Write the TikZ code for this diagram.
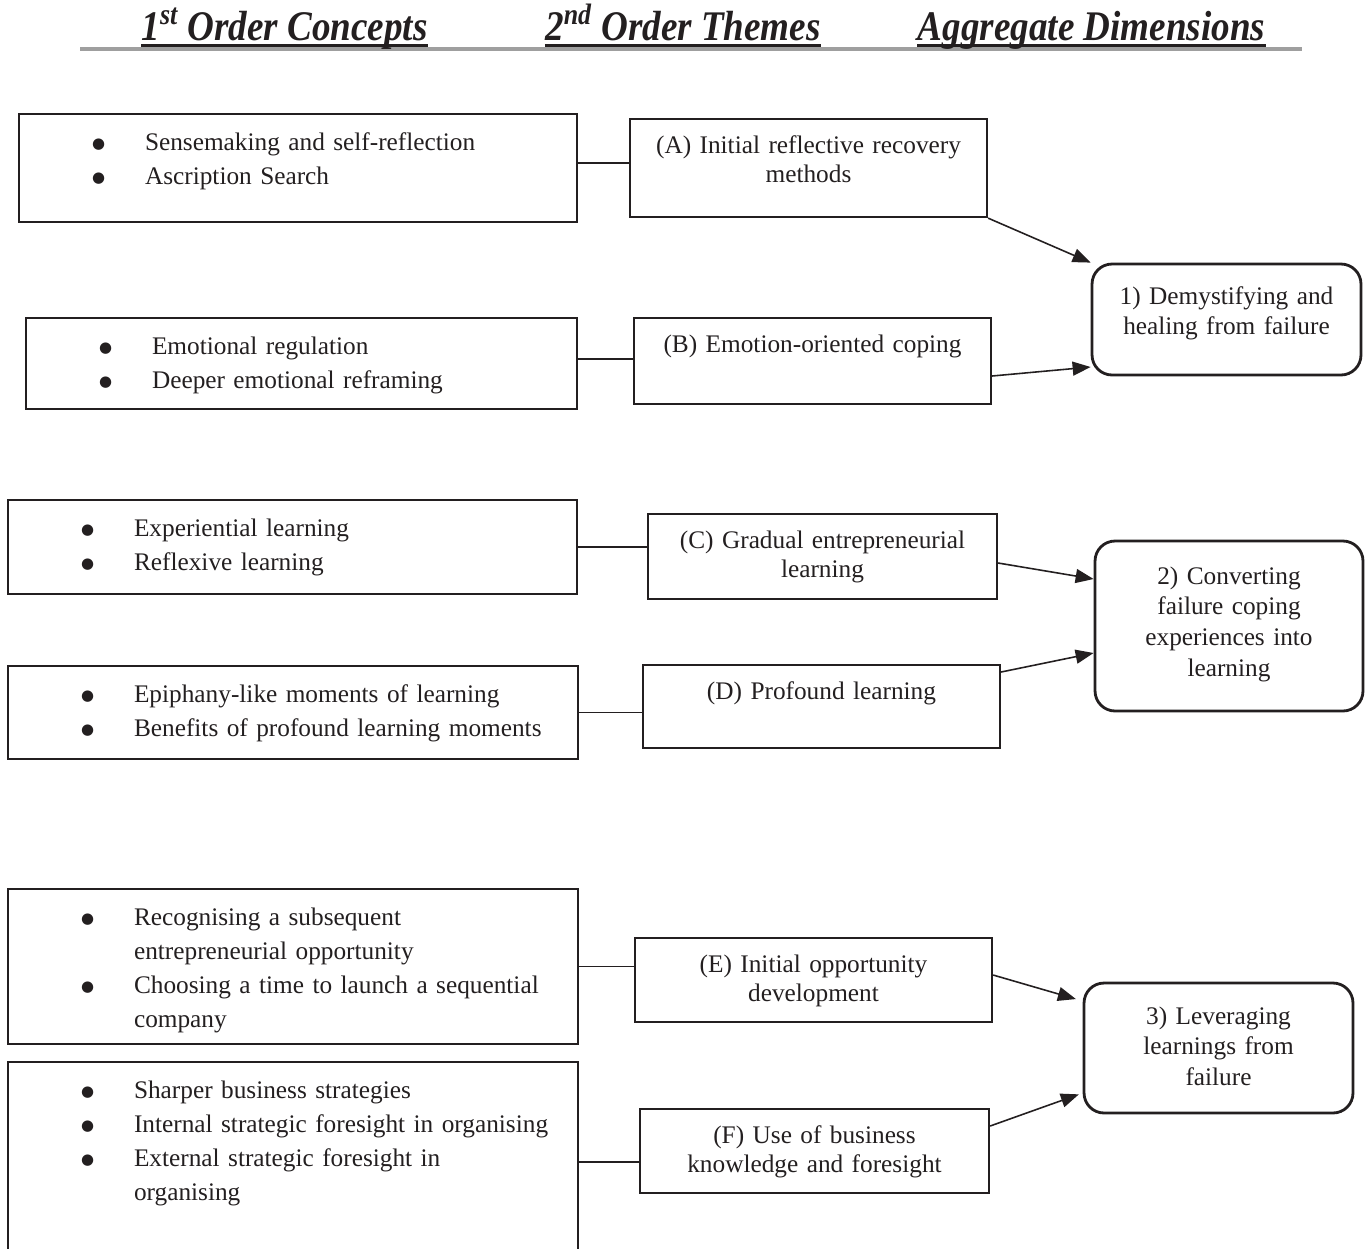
\documentclass[tikz,border=0pt]{standalone}
\usepackage{fontspec}
\setmainfont{Liberation Serif}
\newfontfamily\symfont{DejaVu Sans}
\usepackage{graphicx}
\usetikzlibrary{arrows.meta}

\definecolor{ink}{HTML}{231F20}

\newcommand{\hd}[1]{\scalebox{0.88}[1]{\fontsize{24pt}{28pt}\selectfont\bfseries\itshape #1}}
\newcommand{\bul}{\raisebox{1pt}{\fontsize{8.5pt}{8.5pt}\symfont ●}}
\newcommand{\bullist}[1]{\begin{tabular}[t]{@{\hspace{1.46cm}}p{1.06cm}@{}l@{}}#1\end{tabular}}

\begin{document}
\begin{tikzpicture}[x=0.02cm, y=-0.02cm, ink,
			conceptbox/.style={draw, line width = 1.4pt, inner sep=0pt, text width=#1, align=left, text height=0.72cm, font=\fontsize{14.4pt}{19.4pt}\selectfont},
			themebox/.style={draw, line width = 1.3pt, inner sep=0pt, text width=#1, align=center, text height=0.68cm, font=\fontsize{14.4pt}{16.8pt}\selectfont},
			dimbox/.style={draw, line width = 1.6pt, rounded corners=0.4cm, inner sep=0pt, text width=#1, align=center, font=\fontsize{14.4pt}{17.6pt}\selectfont},
			link/.style={line width = 0.9pt},
			arr/.style={line width = 0.9pt, -{Triangle[length=0.36cm, width=0.28cm]}}
		]

		\useasboundingbox (0,0) rectangle (1368,1248);
		\clip (0,0) rectangle (1368,1248);

		\draw[gray!75, line width = 2.2pt] (80,49) -- (1302,49);

		\node[anchor=base, inner sep=0pt] (h1) at (284.5,40) {\hd{1\textsuperscript{st} Order Concepts}};
		\node[anchor=base, inner sep=0pt] (h2) at (683,40) {\hd{2\textsuperscript{nd} Order Themes}};
		\node[anchor=base, inner sep=0pt] (h3) at (1091.5,40) {\hd{Aggregate Dimensions}};

		\draw[line width = 1.4pt] ([yshift=-3pt]h1.base west) -- ([yshift=-3pt]h1.base east);
		\draw[line width = 1.4pt] ([yshift=-3pt]h2.base west) -- ([yshift=-3pt]h2.base east);
		\draw[line width = 1.4pt] ([yshift=-3pt]h3.base west) -- ([yshift=-3pt]h3.base east);

		\node[conceptbox=11.16cm, text depth=1.44cm] (c1) at (298,168) {\bullist{
			\bul & Sensemaking and self-reflection\\
			\bul & Ascription Search}};
		\node[conceptbox=11.02cm, text depth=1.10cm] (c2) at (301.5,363.5) {\bullist{
			\bul & Emotional regulation\\
			\bul & Deeper emotional reframing}};
		\node[conceptbox=11.38cm, text depth=1.16cm] (c3) at (292.5,547) {\bullist{
			\bul & Experiential learning\\
			\bul & Reflexive learning}};
		\node[conceptbox=11.4cm, text depth=1.14cm] (c4) at (293,712.5) {\bullist{
			\bul & Epiphany-like moments of learning\\
			\bul & Benefits of profound learning moments}};
		\node[conceptbox=11.4cm, text depth=2.38cm] (c5) at (293,966.5) {\bullist{
			\bul & Recognising a subsequent\\
			 & entrepreneurial opportunity\\
			\bul & Choosing a time to launch a sequential\\
			 & company}};
		\node[conceptbox=11.4cm, text depth=3.28cm] (c6) at (293,1162) {\bullist{
			\bul & Sharper business strategies\\
			\bul & Internal strategic foresight in organising\\
			\bul & External strategic foresight in\\
			 & organising}};

		\node[themebox=7.14cm, text depth=1.28cm] (ta) at (808.5,168) {(A) Initial reflective recovery\\ methods};
		\node[themebox=7.14cm, text depth=1.04cm] (tb) at (812.5,361) {(B) Emotion-oriented coping};
		\node[themebox=6.98cm, text depth=1.02cm] (tc) at (822.5,556.5) {(C) Gradual entrepreneurial\\ learning};
		\node[themebox=7.14cm, text depth=0.98cm] (td) at (821.5,706.5) {(D) Profound learning};
		\node[themebox=7.14cm, text depth=1.00cm] (te) at (813.5,980) {(E) Initial opportunity\\ development};
		\node[themebox=6.98cm, text depth=1.00cm] (tf) at (814.5,1151) {(F) Use of business\\ knowledge and foresight};

		\node[dimbox=5.38cm, text height=0.80cm, text depth=1.42cm] (agg1) at (1226.5,319.5) {1) Demystifying and\\ healing from failure};
		\node[dimbox=5.36cm, text height=0.86cm, text depth=2.54cm] (agg2) at (1229,626) {2) Converting\\ failure coping\\ experiences into\\ learning};
		\node[dimbox=5.38cm, text height=0.82cm, text depth=1.78cm] (agg3) at (1218.5,1048) {3) Leveraging\\ learnings from\\ failure};

		\draw[link] ([yshift=0.1cm]c1.east) -- ([yshift=0.1cm]c1.east -| ta.west);
		\draw[link] ([yshift=0.09cm]c2.east) -- ([yshift=0.09cm]c2.east -| tb.west);
		\draw[link] (c3.east) -- (c3.east -| tc.west);
		\draw[link] (c4.east) -- (c4.east -| td.west);
		\draw[link] (c5.east) -- (c5.east -| te.west);
		\draw[link] (c6.east) -- (c6.east -| tf.west);

		\draw[arr] (ta.south east) -- (agg1.north west);
		\draw[arr] ([yshift=-0.3cm]tb.east) -- ([yshift=-0.95cm]agg1.west);
		\draw[arr] ([yshift=-0.13cm]tc.east) -- ([yshift=0.94cm]agg2.west);
		\draw[arr] ([yshift=0.69cm]td.east) -- ([yshift=-0.54cm]agg2.west);
		\draw[arr, shorten >=0.14cm] ([yshift=0.1cm]te.east) -- ([yshift=0.94cm]agg3.west);
		\draw[arr, shorten >=0.08cm] ([yshift=0.5cm]tf.east) -- ([yshift=-0.9cm]agg3.west);

	\end{tikzpicture}
\end{document}
